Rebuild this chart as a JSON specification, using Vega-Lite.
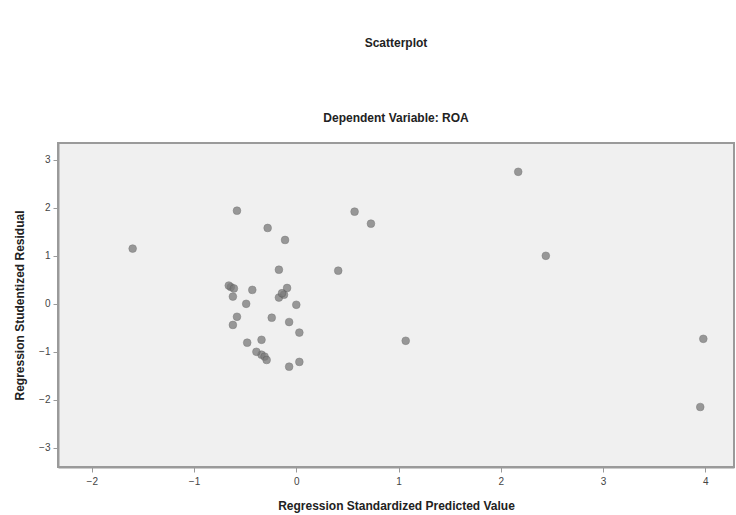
{
  "$schema": "https://vega.github.io/schema/vega-lite/v6.json",
  "autosize": "none",
  "width": 676,
  "height": 324,
  "padding": {"left": 58, "top": 143, "right": 2, "bottom": 48},
  "background": "white",
  "title": {
    "text": "Scatterplot",
    "subtitle": "Dependent Variable: ROA",
    "anchor": "middle",
    "font": "Liberation Sans",
    "fontSize": 12,
    "fontWeight": "bold",
    "color": "#222",
    "subtitleFont": "Liberation Sans",
    "subtitleFontSize": 12,
    "subtitleFontWeight": "bold",
    "subtitleColor": "#222",
    "subtitlePadding": 63,
    "offset": 18
  },
  "config": {
    "view": {"fill": "#f0f0f0", "stroke": "#9a9a9a", "strokeWidth": 2},
    "axis": {
      "grid": false,
      "domainColor": "#9a9a9a",
      "domainWidth": 2,
      "tickColor": "#9a9a9a",
      "tickSize": 5,
      "labelFont": "Liberation Sans",
      "labelFontSize": 10,
      "labelColor": "#444",
      "titleFont": "Liberation Sans",
      "titleFontSize": 12,
      "titleFontWeight": "bold",
      "titleColor": "#222"
    }
  },
  "data": {
    "values": [
      {"x": -1.60, "y": 1.15},
      {"x": -0.58, "y": 1.94},
      {"x": -0.28, "y": 1.58},
      {"x": -0.11, "y": 1.33},
      {"x": 0.57, "y": 1.92},
      {"x": 0.73, "y": 1.67},
      {"x": 0.41, "y": 0.69},
      {"x": 1.07, "y": -0.77},
      {"x": 2.17, "y": 2.75},
      {"x": 2.44, "y": 1.0},
      {"x": 3.98, "y": -0.73},
      {"x": 3.95, "y": -2.15},
      {"x": -0.64, "y": 0.35},
      {"x": -0.66, "y": 0.38},
      {"x": -0.61, "y": 0.32},
      {"x": -0.62, "y": 0.15},
      {"x": -0.43, "y": 0.29},
      {"x": -0.49, "y": 0.0},
      {"x": -0.17, "y": 0.71},
      {"x": -0.09, "y": 0.33},
      {"x": -0.17, "y": 0.13},
      {"x": -0.12, "y": 0.19},
      {"x": -0.14, "y": 0.22},
      {"x": -0.58, "y": -0.27},
      {"x": -0.62, "y": -0.44},
      {"x": -0.24, "y": -0.29},
      {"x": -0.07, "y": -0.38},
      {"x": 0.03, "y": -0.6},
      {"x": -0.48, "y": -0.81},
      {"x": -0.34, "y": -0.75},
      {"x": -0.34, "y": -1.06},
      {"x": -0.39, "y": -1.0},
      {"x": -0.31, "y": -1.1},
      {"x": -0.29, "y": -1.17},
      {"x": -0.07, "y": -1.31},
      {"x": 0.03, "y": -1.21},
      {"x": 0.0, "y": -0.02}
    ]
  },
  "mark": {"type": "point", "shape": "circle", "filled": true, "size": 60, "color": "#7a7a7a", "opacity": 0.75, "stroke": "#555", "strokeWidth": 0.5},
  "encoding": {
    "x": {
      "field": "x",
      "type": "quantitative",
      "scale": {"domain": [-2.33, 4.28], "nice": false, "zero": false},
      "axis": {"values": [-2, -1, 0, 1, 2, 3, 4], "title": "Regression Standardized Predicted Value", "titlePadding": 14, "labelPadding": 4}
    },
    "y": {
      "field": "y",
      "type": "quantitative",
      "scale": {"domain": [-3.4, 3.35], "nice": false, "zero": false},
      "axis": {"values": [-3, -2, -1, 0, 1, 2, 3], "title": "Regression Studentized Residual", "titlePadding": 12, "labelPadding": 3}
    }
  }
}
